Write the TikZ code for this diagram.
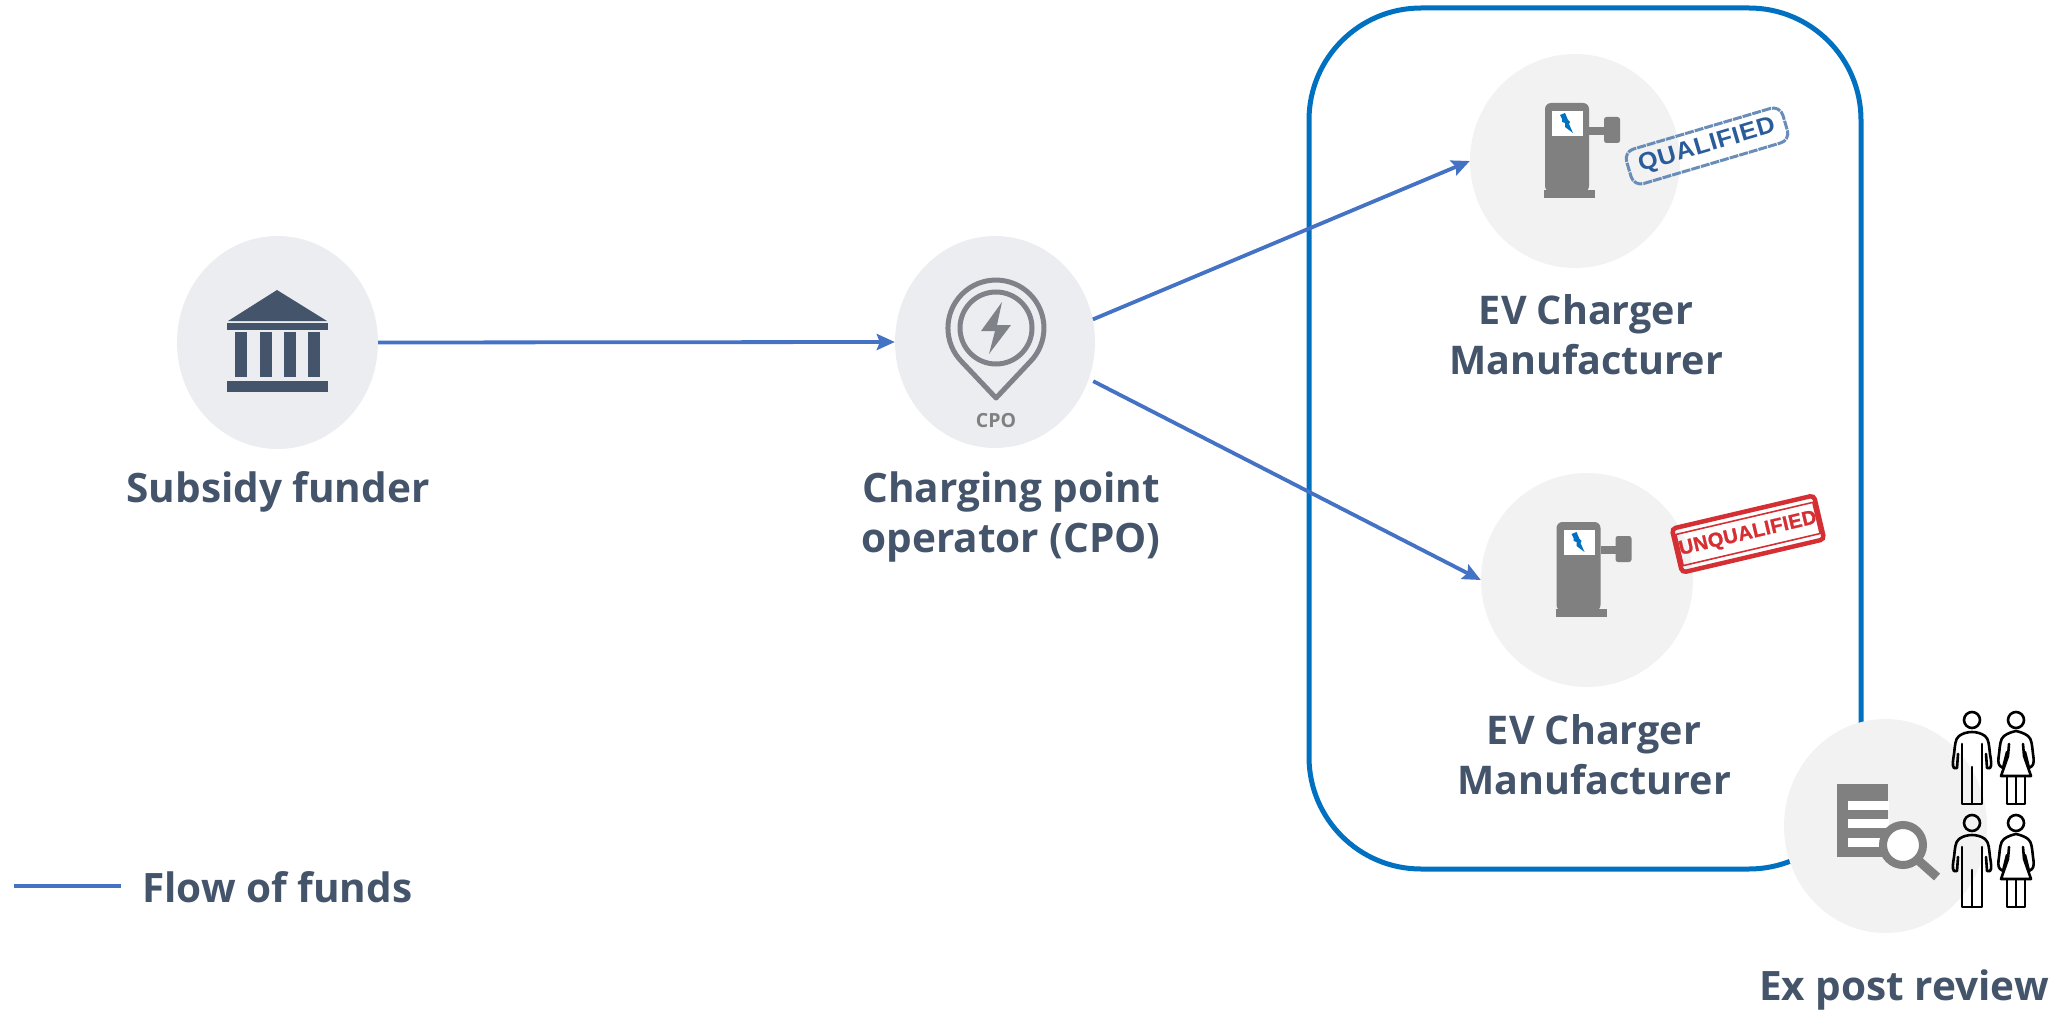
\documentclass[tikz,border=0pt]{standalone}
\usepackage{fontspec}
\setmainfont{Open Sans}
\newfontfamily\stampfont[LetterSpace=3,FakeStretch=1.05]{Liberation Sans}
\newfontfamily\stampfontred[LetterSpace=2,FakeBold=1.2]{Liberation Sans}
\usetikzlibrary{shapes.geometric,arrows.meta}
\definecolor{slateink}{HTML}{44546A}
\definecolor{flowblue}{HTML}{4472C4}
\definecolor{boxblue}{HTML}{0070C0}
\definecolor{discA}{HTML}{ECEDF1}
\definecolor{discB}{HTML}{F2F2F2}
\definecolor{icongray}{HTML}{808080}
\definecolor{pingray}{HTML}{7F8389}
\definecolor{stampblue}{HTML}{2A5C9A}
\definecolor{stampedge}{HTML}{6A8DB8}
\definecolor{stampred}{HTML}{D62F33}
\tikzset{
  disc/.style={ellipse,inner sep=0pt,minimum width=#1},
  lbl/.style={text=slateink,font=\fontsize{40.5}{50}\selectfont\bfseries,align=center,inner sep=0pt},
  lblm/.style={lbl,font=\fontsize{39.5}{50}\selectfont\bfseries},
  flow/.style={draw=flowblue,line width=3.8pt},
  flowarrow/.style={flow,-{Stealth[length=18pt,width=16pt,inset=3pt]}},
  person/.style={draw=black,line width=2.6pt,line join=round,line cap=round,fill=none},
  charger/.pic={
    \fill[icongray,rounded corners=6pt] (0,0) rectangle (44,89);
    \fill[icongray] (-1,87) rectangle (50,95);
    \fill[white] (7,8) rectangle (38,33);
    \fill[icongray] (44,24) rectangle (60,32);
    \fill[icongray,rounded corners=2.5pt] (59,14) rectangle (75,40);
    \fill[boxblue] (15,12) -- (20,10) -- (23,17) -- (25,19) -- (24,21) -- (28,30) -- (20,24) -- (20,20) -- (17,19) -- (17,16) -- cycle;
  },
  man/.pic={
    \draw[person] (0,0) circle (8);
    \draw[person] (-18,48) .. controls (-20,46) and (-19,40) .. (-18,34) .. controls (-17,26) and (-17,19) .. (-13,16) .. controls (-9,13) and (-4,12) .. (0,12) .. controls (4,12) and (9,13) .. (13,16) .. controls (17,19) and (17,26) .. (18,34) .. controls (19,40) and (20,46) .. (18,48);
    \draw[person] (-10,24) -- (-10,84) -- (10,84) -- (10,24);
    \draw[person] (0,47) -- (0,84);
    \draw[person] (-18,48) -- (-15,48) -- (-14,34);
    \draw[person] (18,48) -- (15,48) -- (14,34);
  },
  woman/.pic={
    \draw[person] (0,0) circle (8);
    \draw[person] (-16,46) .. controls (-18,44) and (-18,40) .. (-17,34) .. controls (-16,26) and (-16,19) .. (-12,16) .. controls (-8,13) and (-4,12) .. (0,11) .. controls (4,12) and (8,13) .. (12,16) .. controls (16,19) and (16,26) .. (17,34) .. controls (18,40) and (18,44) .. (16,46);
    \draw[person] (-16,46) -- (-13,48) -- (-9,32);
    \draw[person] (16,46) -- (13,48) -- (9,32);
    \draw[person] (-7,24) -- (-8,36) -- (-15,56) -- (15,56) -- (8,36) -- (7,24);
    \draw[person] (-9,56) -- (-9,84) -- (9,84) -- (9,56);
    \draw[person] (0,56) -- (0,84);
  }
}
\begin{document}
\begin{tikzpicture}[x=1pt,y=-1pt]
\useasboundingbox (0,0) rectangle (2059,1014);
% ex post box
\node[draw=boxblue,line width=5pt,rounded corners=112pt,minimum width=552pt,minimum height=861pt,inner sep=0pt] (reviewbox) at (1585,438.5) {};
% discs
\node[disc=201pt,minimum height=213pt,fill=discA] (subsidy) at (277.5,342.5) {};
\node[disc=200pt,minimum height=212pt,fill=discA] (cpo) at (995,342) {};
\node[disc=210pt,minimum height=214pt,fill=discB] (chargerA) at (1575,161) {};
\node[disc=212pt,minimum height=214pt,fill=discB] (chargerB) at (1587,580) {};
\node[disc=203pt,minimum height=214pt,fill=discB] (review) at (1885.5,826) {};
% connectors
\draw[flowarrow] (subsidy.east) -- (cpo.west);
\draw[flowarrow] (cpo.13) -- (chargerA.west);
\draw[flowarrow] ([shift={(4,3)}]cpo.-21) -- (chargerB.west);
% building
\fill[slateink] (277,290) -- (327,321) -- (228,321) -- cycle;
\fill[slateink] (227,323) rectangle (328,330);
\foreach \cx in {235,260,284,308}{\fill[slateink] (\cx,332) rectangle ++(12,45);}
\fill[slateink] (227,381) rectangle (328,392);
% cpo pin
\draw[pingray,line width=5pt,line join=round] (962,362) arc[start angle=135,end angle=405,radius=48] -- (996,398) -- cycle;
\draw[pingray,line width=5pt] (996,328) circle (36);
\fill[pingray] (1002,302) -- (981,331) -- (995,331) -- (989,354) -- (1011,325) -- (997,325) -- cycle;
\node[text=icongray,font=\fontsize{19.5}{20}\selectfont\bfseries,inner sep=0pt] (cpotag) at (996,421) {CPO};
% chargers
\pic at (1545,103) {charger};
\pic at (1556.5,522) {charger};
% stamps
\node[draw=stampedge,line width=3pt,dash pattern=on 9pt off 1pt,rounded corners=10pt,minimum width=163pt,minimum height=36pt,inner sep=0pt,rotate=16.5,text=stampblue,font=\stampfont\fontsize{24}{24}\selectfont\bfseries] (stampA) at (1707,146) {QUALIFIED};
\node[draw=stampred,line width=4.5pt,rounded corners=4pt,minimum width=146pt,minimum height=45pt,inner sep=0pt,rotate=13.2] (stampB) at (1748,534) {};
\node[draw=stampred,line width=1.6pt,minimum width=135pt,minimum height=32pt,inner sep=0pt,rotate=13.2,text=stampred,font=\stampfontred\fontsize{20}{20}\selectfont\bfseries] (stampBtext) at (1748,534) {UNQUALIFIED};
% review icon
\fill[icongray] (1837,784) rectangle (1888,857);
\fill[white] (1848,801) rectangle (1889,810);
\fill[white] (1848,819) rectangle (1889,828);
\fill[white] (1848,838) rectangle (1889,847);
\draw[icongray,line width=9pt] (1919,861) -- (1937,877);
\draw[icongray,line width=8pt,fill=white] (1903,845) circle (20);
% people
\pic at (1972,720) {man};
\pic at (2016,720) {woman};
\pic at (1972,823) {man};
\pic at (2016,823) {woman};
% labels
\node[lbl] (subsidylabel) at (278,492) {Subsidy funder};
\node[lbl] (cpolabel) at (1011,517) {Charging point\\operator (CPO)};
\node[lblm] (chargerAlabel) at (1586,335) {EV Charger\\Manufacturer};
\node[lblm] (chargerBlabel) at (1594,755) {EV Charger\\Manufacturer};
\node[lbl] (reviewlabel) at (1904,990) {Ex post review};
% legend
\coordinate (legendA) at (14,886);
\coordinate (legendB) at (121,886);
\draw[flow] (legendA) -- (legendB);
\node[lbl,anchor=west] (legendlabel) at (142,887) {Flow of funds};
\end{tikzpicture}
\end{document}
